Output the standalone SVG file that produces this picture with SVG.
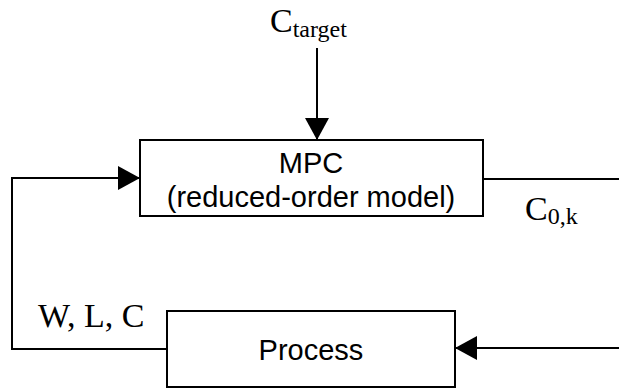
<svg xmlns="http://www.w3.org/2000/svg" width="619" height="389" viewBox="0 0 619 389">
  <style>
    .box { fill: #ffffff; stroke: #000000; stroke-width: 2; }
    .wire { fill: none; stroke: #000000; stroke-width: 2; }
    .sans { font-family: "Liberation Sans", Arial, sans-serif; font-size: 29px; fill: #000000; text-anchor: middle; }
    .serif { font-family: "Liberation Serif", "Times New Roman", serif; font-size: 34px; fill: #000000; }
    .sub { font-size: 24px; }
  </style>
  <defs>
    <marker id="arrow" viewBox="0 0 22 24" refX="22" refY="12" markerWidth="22" markerHeight="24" markerUnits="userSpaceOnUse" orient="auto">
      <path d="M0,0 L22,12 L0,24 Z" fill="#000000"/>
    </marker>
  </defs>

  <g id="connectors">
    <!-- setpoint into the controller -->
    <line class="wire" x1="317" y1="48" x2="317" y2="140" marker-end="url(#arrow)"/>
    <!-- measured outputs fed back to the controller -->
    <polyline class="wire" points="172,349 12,349 12,178 140,178" marker-end="url(#arrow)"/>
    <!-- controller output leaving to the right -->
    <line class="wire" x1="483" y1="179" x2="619" y2="179"/>
    <!-- input returning into the process -->
    <line class="wire" x1="619" y1="348" x2="455" y2="348" marker-end="url(#arrow)"/>
  </g>

  <g id="ctarget-label">
    <text class="serif" x="270" y="32">C<tspan class="sub" dy="5">target</tspan></text>
  </g>

  <g id="mpc">
    <rect class="box" x="140" y="140" width="343" height="76"/>
    <text class="sans" x="311" y="173">MPC</text>
    <text class="sans" x="311" y="207">(reduced-order model)</text>
  </g>

  <g id="c0k-label">
    <text class="serif" x="525" y="220">C<tspan class="sub" dy="4">0,k</tspan></text>
  </g>

  <g id="wlc-label">
    <text class="serif" x="38" y="327">W, L, C</text>
  </g>

  <g id="process">
    <rect class="box" x="167" y="311" width="288" height="76"/>
    <text class="sans" x="311" y="360">Process</text>
  </g>
</svg>
